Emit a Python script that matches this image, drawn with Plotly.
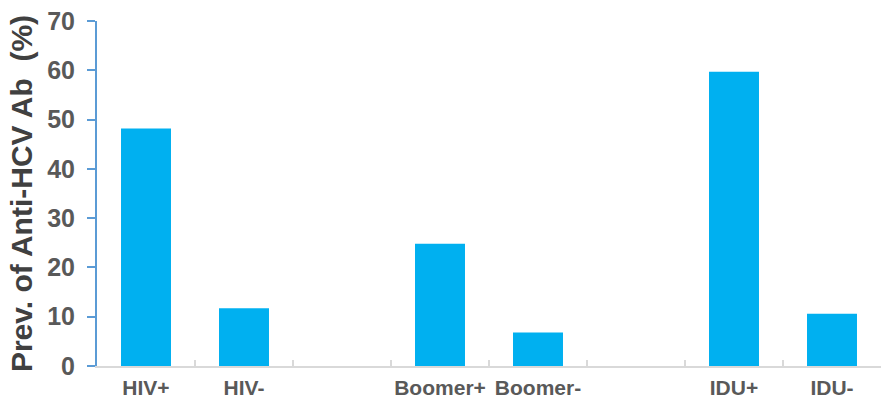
import plotly.graph_objects as go

categories = ["HIV+", "HIV-", "Boomer+", "Boomer-", "IDU+", "IDU-"]
values = [48.2, 11.7, 24.8, 6.8, 59.7, 10.6]
# category order with empty spacer slots between the groups
category_order = ["HIV+", "HIV-", " ", "Boomer+", "Boomer-", "  ", "IDU+", "IDU-"]
y_ticks = [0, 10, 20, 30, 40, 50, 60, 70]

FONT = "Liberation Sans, Arial, sans-serif"

fig = go.Figure(
    go.Bar(
        x=categories,
        y=values,
        marker=dict(color="#00B0F0", line=dict(width=0)),
    )
)

fig.update_layout(
    width=881,
    height=403,
    margin=dict(l=97, r=0, t=21, b=37),
    paper_bgcolor="white",
    plot_bgcolor="white",
    bargap=0.49,
    showlegend=False,
    font=dict(family=FONT, color="#595959"),
)

fig.update_xaxes(
    type="category",
    categoryorder="array",
    categoryarray=category_order,
    tickson="boundaries",
    ticks="inside",
    ticklen=6,
    tickwidth=1.5,
    tickcolor="#d9d9d9",
    showline=True,
    linecolor="#d9d9d9",
    linewidth=2,
    showgrid=False,
    tickangle=0,
    automargin=False,
    tickfont=dict(family=FONT, size=21, color="#595959", weight="bold"),
    ticklabelstandoff=2,
)

fig.update_yaxes(
    range=[0, 70],
    tickvals=y_ticks,
    ticks="outside",
    ticklen=8,
    tickwidth=2,
    tickcolor="#5B9BD5",
    showline=True,
    linecolor="#5B9BD5",
    linewidth=2,
    showgrid=False,
    zeroline=False,
    automargin=False,
    tickfont=dict(family=FONT, size=25, color="#595959", weight="bold"),
    ticklabelstandoff=7,
    title=dict(
        text="Prev. of Anti-HCV Ab  (%)",
        font=dict(family=FONT, size=30, color="#404040", weight="bold"),
        standoff=6,
    ),
)

fig.write_html("out.html")
